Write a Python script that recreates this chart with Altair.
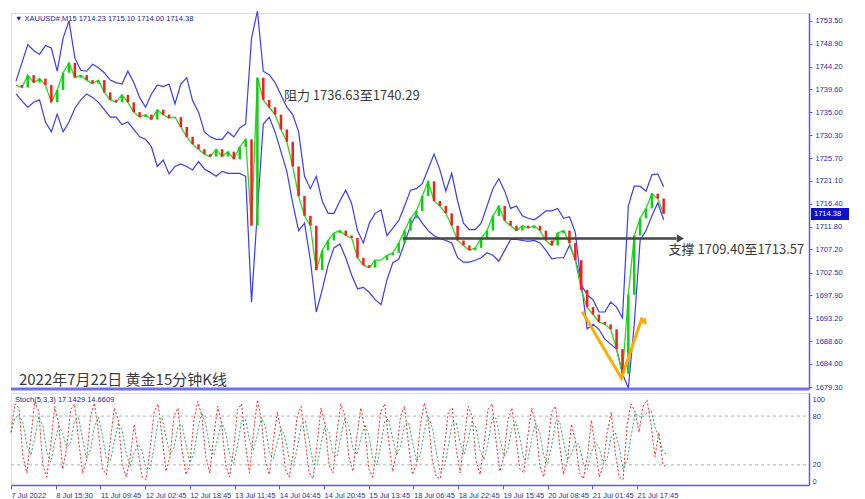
import altair as alt
import pandas as pd
import numpy as np

# ---------------- data ----------------
# price samples every 6 bars-pixels starting at x=3
closes = [1740.5, 1740.0, 1742.5, 1741.0, 1741.8, 1740.5, 1737.0, 1739.5, 1743.0, 1745.0,
          1742.0, 1742.5, 1741.5, 1740.8, 1741.5, 1739.0, 1737.5, 1737.0, 1738.5, 1737.0,
          1735.0, 1734.0, 1734.5, 1733.5, 1735.5, 1734.5, 1733.8, 1734.0, 1732.0, 1730.0,
          1728.5, 1727.5, 1726.5, 1726.0, 1727.5, 1726.0, 1727.0, 1725.5, 1728.0, 1729.5,
          1712.0, 1742.0, 1737.5, 1736.0, 1734.5, 1731.5, 1729.0, 1724.0, 1718.0, 1714.0,
          1712.0, 1703.0, 1707.0, 1709.0, 1710.5, 1711.0, 1710.0, 1709.5, 1705.5, 1704.0,
          1703.5, 1705.0, 1705.0, 1706.0, 1706.5, 1708.5, 1711.0, 1713.5, 1715.0, 1718.0,
          1721.0, 1717.0, 1716.0, 1714.5, 1712.0, 1709.0, 1708.0, 1707.0, 1707.5, 1709.5,
          1711.0, 1714.0, 1716.0, 1713.0, 1712.0, 1711.0, 1712.0, 1711.5, 1712.0, 1711.0,
          1709.0, 1708.0, 1710.5, 1711.0, 1708.5, 1705.0, 1699.0, 1695.5, 1694.0, 1692.5,
          1692.0, 1691.0, 1687.0, 1682.0, 1698.0, 1710.0, 1713.5, 1715.5, 1718.5, 1717.5,
          1714.4]
upper = [1741.3, 1745.0, 1748.7, 1747.5, 1746.7, 1748.5, 1748.0, 1743.3, 1750.0, 1753.5,
         1746.0, 1743.5, 1743.3, 1744.7, 1744.0, 1743.0, 1741.5, 1741.0, 1740.7, 1743.3,
         1741.0, 1738.0, 1736.0, 1738.7, 1740.5, 1740.2, 1740.7, 1736.7, 1740.7, 1742.0,
         1737.3, 1735.0, 1731.0, 1730.0, 1729.5, 1729.5, 1731.0, 1730.0, 1731.8, 1732.6,
         1750.0, 1755.5, 1743.3, 1742.6, 1741.0, 1738.5, 1736.0, 1734.5, 1731.0, 1722.0,
         1719.5, 1722.0, 1717.0, 1714.5, 1714.5, 1717.0, 1719.2, 1716.5, 1711.0, 1708.5,
         1712.5, 1714.5, 1715.2, 1710.0, 1711.5, 1713.0, 1716.0, 1719.2, 1719.5, 1720.5,
         1723.5, 1726.5, 1723.3, 1719.0, 1722.6, 1717.0, 1712.5, 1711.2, 1711.2, 1712.5,
         1716.0, 1719.5, 1721.5, 1719.0, 1715.5, 1716.0, 1714.0, 1713.5, 1713.2, 1714.0,
         1715.0, 1715.0, 1715.5, 1713.5, 1713.8, 1710.6, 1700.0, 1698.0, 1697.0, 1694.5,
         1694.5, 1696.5, 1695.5, 1693.3, 1716.0, 1720.0, 1720.0, 1719.0, 1722.3, 1722.5,
         1719.9]
lower = [1738.7, 1737.3, 1736.0, 1737.0, 1737.5, 1733.0, 1731.0, 1734.6, 1731.0, 1733.0,
         1735.8, 1737.5, 1738.7, 1738.0, 1737.0, 1735.5, 1734.0, 1734.0, 1732.5, 1733.0,
         1731.5, 1730.0, 1729.5, 1728.0, 1724.0, 1725.3, 1722.5, 1724.0, 1724.5, 1724.0,
         1723.3, 1725.0, 1723.5, 1722.8, 1722.0, 1723.0, 1722.6, 1722.6, 1722.6, 1722.0,
         1696.5, 1715.0, 1732.6, 1734.0, 1731.0, 1727.0, 1723.0, 1716.5, 1711.0, 1712.5,
         1705.0, 1694.5, 1699.0, 1704.0, 1707.5, 1708.3, 1705.5, 1702.0, 1699.2, 1699.5,
         1698.5, 1697.0, 1696.0, 1701.0, 1704.5, 1705.2, 1708.5, 1712.0, 1714.3, 1712.5,
         1711.0, 1710.0, 1709.4, 1709.0, 1708.5, 1705.5, 1704.6, 1704.6, 1705.0, 1705.5,
         1706.5, 1706.0, 1704.8, 1707.0, 1709.2, 1709.2, 1709.0, 1708.8, 1709.0, 1708.5,
         1707.0, 1705.3, 1705.5, 1705.5, 1708.0, 1705.2, 1700.5, 1691.1, 1692.0, 1691.0,
         1689.0, 1688.0, 1687.0, 1682.0, 1679.1, 1692.0, 1709.0, 1711.0, 1714.0, 1716.6,
         1713.2]

# stochastic main line, samples every 4 px starting at x=3
stoch_main = [60, 95, 90, 30, 10, 55, 98, 85, 20, 5, 45, 92, 70, 15, 40, 88,
              95, 50, 10, 25, 80, 96, 60, 15, 8, 50, 90, 75, 20, 5, 30, 70,
              35, 5, 2, 40, 85, 95, 55, 12, 30, 80, 90, 40, 8, 20, 75, 98,
              80, 30, 10, 55, 92, 70, 20, 5, 40, 88, 95, 45, 10, 60, 100, 75,
              25, 8, 50, 85, 60, 15, 5, 35, 80, 92, 50, 10, 3, 45, 90, 70,
              20, 10, 60, 95, 80, 30, 12, 55, 90, 65, 15, 5, 40, 85, 95, 50,
              12, 35, 80, 92, 45, 8, 20, 70, 96, 75, 25, 5, 3, 40, 85, 90,
              40, 10, 50, 92, 80, 25, 8, 45, 88, 95, 50, 12, 30, 75, 90, 55,
              15, 10, 55, 90, 70, 20, 5, 40, 85, 92, 45, 8, 25, 70, 50, 10,
              3, 30, 75, 40, 5, 20, 60, 85, 35, 5, 2, 70, 95, 85, 60, 92,
              100, 70, 30, 60, 20, 17.14]

price_ticks = [1753.50, 1748.90, 1744.20, 1739.60, 1735.00, 1730.30, 1725.70, 1721.10,
               1716.40, 1711.80, 1707.20, 1702.50, 1697.90, 1693.20, 1688.60, 1684.00, 1679.30]
stoch_ticks = [0, 20, 80, 100]
time_tick_pos = [3, 48, 93, 138, 183, 228, 273, 318, 363, 408, 453, 498, 543, 588, 633]
time_tick_labels = ["7 Jul 2022", "8 Jul 15:30", "11 Jul 09:45", "12 Jul 02:45", "12 Jul 18:45",
                    "13 Jul 11:45", "14 Jul 04:45", "14 Jul 20:45", "15 Jul 13:45", "18 Jul 06:45",
                    "18 Jul 22:45", "19 Jul 15:45", "20 Jul 08:45", "21 Jul 01:45", "21 Jul 17:45"]

support_level = 1709.40
resist_text = "阻力 1736.63至1740.29"
support_text = "支撑 1709.40至1713.57"
title_text = "2022年7月22日 黄金15分钟K线"
header_text = "▼  XAUUSD#,M15  1714.23 1715.10 1714.00 1714.38"
stoch_text = "Stoch(5,3,3) 17.1429 14.6609"
last_price = 1714.38

# ---------------- tables ----------------
xs = [3 + 6 * i for i in range(len(closes))]
opens = [closes[0]] + closes[:-1]
df = pd.DataFrame({"x": xs, "open": opens, "close": closes, "upper": upper, "lower": lower})
df["dir"] = np.where(df["close"] >= df["open"], "up", "down")

sx = [3 + 4 * i for i in range(len(stoch_main))]
sdf = pd.DataFrame({"x": sx, "main": stoch_main})
sdf["signal"] = sdf["main"].rolling(3, min_periods=1).mean()

W, H1, H2 = 798, 376, 92
XDOM = [3, 806]
YDOM = [1678.9, 1755.1]
BLUE = "#3a3aff"
AXBLUE = "#5a5af0"
LBL = "#2a2aa8"
SMALLFONT = "Liberation Sans"
FS = 7.5

xsc = alt.Scale(domain=XDOM, nice=False, zero=False)
ysc = alt.Scale(domain=YDOM, nice=False, zero=False)

y_axis = alt.Axis(orient="right", values=price_ticks, format=".2f", labelFontSize=FS,
                  labelColor=LBL, tickColor=AXBLUE, domainColor=AXBLUE, domainWidth=1.5,
                  tickSize=3, grid=False, title=None, labelFont=SMALLFONT, labelPadding=3,
                  labelOverlap=False, labelBound=False)

X = alt.X("x:Q", scale=xsc, axis=None)


def Yp(field):
    return alt.Y(field, scale=ysc, axis=y_axis)


base = alt.Chart(df)

band_u = base.mark_line(color=BLUE, strokeWidth=1.2).encode(x=X, y=Yp("upper:Q"))
band_l = base.mark_line(color=BLUE, strokeWidth=1.2).encode(x=X, y=Yp("lower:Q"))
close_line = base.mark_line(color="#22dd22", strokeWidth=1.3).encode(x=X, y=Yp("close:Q"))
bodies = base.mark_bar(size=2.5).encode(
    x=X, y=Yp("open:Q"), y2="close:Q",
    color=alt.Color("dir:N", scale=alt.Scale(domain=["up", "down"], range=["#10d010", "#ff1a1a"]),
                    legend=None))

arrow_df = pd.DataFrame({"x": [397], "x2": [676], "y": [support_level]})
arrow = alt.Chart(arrow_df).mark_rule(color="#454545", strokeWidth=2.5).encode(
    x=X, x2="x2:Q", y=Yp("y:Q"))
arrow_head = alt.Chart(pd.DataFrame({"x": [680], "y": [support_level]})).mark_point(
    shape="triangle-right", filled=True, size=70, color="#454545", opacity=1).encode(
    x=X, y=Yp("y:Q"))

v_df = pd.DataFrame({"x": [580, 620, 641], "y": [1694.55, 1681.1, 1693.4], "o": [0, 1, 2]})
v_line = alt.Chart(v_df).mark_line(color="#ffaa00", strokeWidth=3).encode(
    x=X, y=Yp("y:Q"), order="o:Q")
v_head = alt.Chart(pd.DataFrame({"x": [643], "y": [1692.6]})).mark_point(
    shape="triangle", filled=True, size=60, color="#ffaa00", opacity=1, angle=21).encode(
    x=X, y=Yp("y:Q"))

txt_df = pd.DataFrame({"x": [276, 668, 6], "y": [1738.3, 1707.0, 1680.8],
                       "t": [resist_text, support_text, title_text], "s": [13, 13, 15]})
texts = alt.Chart(txt_df).mark_text(align="left", baseline="middle", color="#3a3a3a",
                                    font="Noto Sans CJK SC").encode(
    x=X, y=Yp("y:Q"), text="t:N", size=alt.Size("s:Q", scale=None, legend=None))

header = alt.Chart(pd.DataFrame({"t": [header_text]})).mark_text(
    align="left", baseline="middle", fontSize=FS, color="#2020a0", font=SMALLFONT).encode(
    x=alt.value(4), y=alt.value(6), text="t:N")

sep = alt.Chart(pd.DataFrame({"a": [0]})).mark_rule(color="#6f6ff0", strokeWidth=3).encode(
    x=alt.value(0), x2=alt.value(W), y=alt.value(H1))

tag_y = (YDOM[1] - last_price) / (YDOM[1] - YDOM[0]) * H1
tag_box = alt.Chart(pd.DataFrame({"a": [0]})).mark_rect(color="#1010c8").encode(
    x=alt.value(W + 2), x2=alt.value(W + 40), y=alt.value(tag_y - 6), y2=alt.value(tag_y + 6))
tag_txt = alt.Chart(pd.DataFrame({"t": [f"{last_price:.2f}"]})).mark_text(
    align="left", baseline="middle", fontSize=FS, color="white", font=SMALLFONT).encode(
    x=alt.value(W + 5), y=alt.value(tag_y), text="t:N")

main = alt.layer(band_u, band_l, close_line, bodies, arrow, arrow_head, v_line, v_head,
                 texts, header, sep, tag_box, tag_txt).properties(width=W, height=H1)

# ---------------- stochastic panel ----------------
label_expr = ("[" + ",".join(f"'{l}'" for l in time_tick_labels) + "][indexof(["
              + ",".join(str(v) for v in time_tick_pos) + "], datum.value)]")
sx_axis = alt.Axis(values=time_tick_pos, labelExpr=label_expr, labelAlign="left", labelFontSize=FS,
                   labelColor=LBL, tickColor=AXBLUE, domainColor=AXBLUE, domainWidth=1.5,
                   tickSize=4, grid=False, title=None, labelFont=SMALLFONT, labelOverlap=False,
                   labelPadding=2, labelFlush=False)
s_ysc = alt.Scale(domain=[-4.8, 108.4], nice=False, zero=False)
s_y_axis = alt.Axis(orient="right", values=stoch_ticks, format="d", labelFontSize=FS,
                    labelColor=LBL, tickSize=0, domainColor=AXBLUE, domainWidth=1.5, grid=False,
                    title=None, labelFont=SMALLFONT, labelPadding=3, labelOverlap=False,
                    labelBound=False)
SX = alt.X("x:Q", scale=xsc, axis=sx_axis)


def Ys(field):
    return alt.Y(field, scale=s_ysc, axis=s_y_axis)


sbase = alt.Chart(sdf)
s_main = sbase.mark_line(color="#ff2020", strokeWidth=1, strokeDash=[2, 2]).encode(
    x=SX, y=Ys("main:Q"))
s_sig = sbase.mark_line(color="#20b060", strokeWidth=1, strokeDash=[2, 2]).encode(
    x=SX, y=Ys("signal:Q"))
levels = alt.Chart(pd.DataFrame({"v": [20, 80]})).mark_rule(
    color="#b0b0b0", strokeWidth=1, strokeDash=[3, 3]).encode(
    y=Ys("v:Q"), x=alt.value(0), x2=alt.value(W))
s_label = alt.Chart(pd.DataFrame({"t": [stoch_text]})).mark_text(
    align="left", baseline="middle", fontSize=FS, color="#2020a0", font=SMALLFONT).encode(
    x=alt.value(4), y=alt.value(7), text="t:N")

stoch = alt.layer(s_main, s_sig, levels, s_label).properties(width=W, height=H2)

chart = alt.vconcat(main, stoch, spacing=0).properties(
    padding={"left": 0, "top": 0, "right": 0, "bottom": 0}
).configure_view(stroke="#9a9ac0", strokeWidth=1).configure(background="white")

chart.save("out.html", embed_options={"renderer": "svg", "actions": False})
